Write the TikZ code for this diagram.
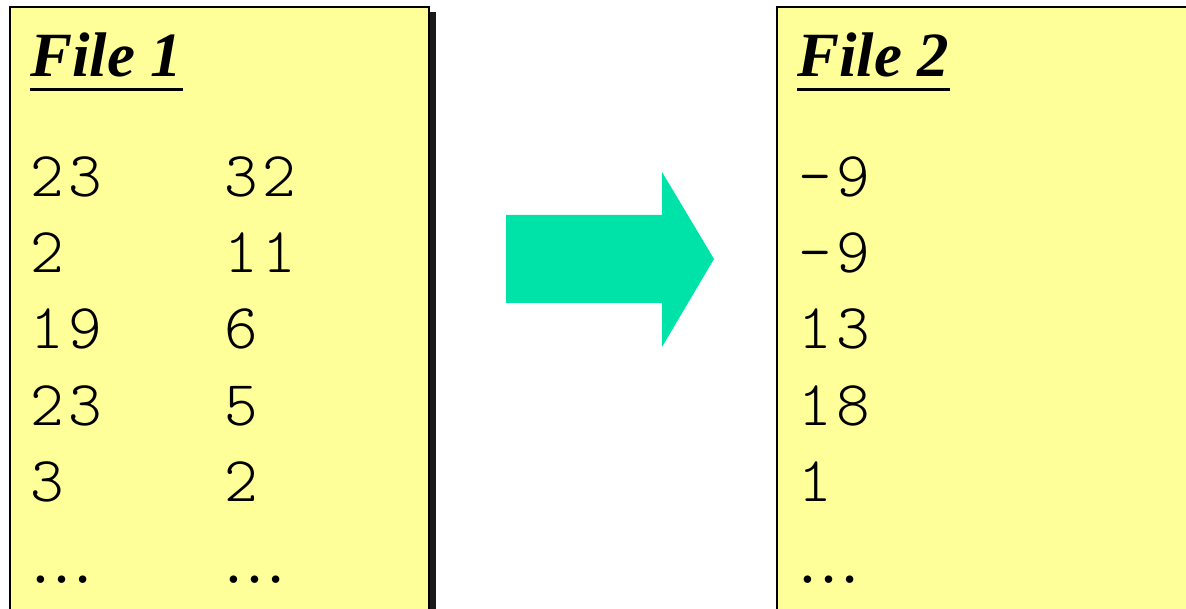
\documentclass[tikz,border=0pt]{standalone}
\usepackage{fontspec}
\setmainfont{Liberation Serif}
\newfontfamily\numfont{lmmonolt10-regular.otf}[LetterSpace=7.5]
\usepackage{tikz}
\definecolor{notepad}{HTML}{FFFF99}
\definecolor{arrowgreen}{HTML}{00E3A8}

\begin{document}
\begin{tikzpicture}[x=1pt,y=-1pt,
    num/.style={anchor=base west,inner sep=0pt,font=\numfont\fontsize{64}{64}\selectfont},
    dots/.style={anchor=base west,inner sep=0pt,font=\fontsize{63}{63}\selectfont},
    title/.style={anchor=base west,inner sep=0pt,font=\bfseries\itshape\fontsize{63}{63}\selectfont}]
  \useasboundingbox (0,0) rectangle (1186,609);

  % the two files
  \fill[black!90] (16,12) rectangle (436,615);
  \draw[fill=notepad, line width=2pt] (10,7) rectangle (429,609.5);
  \draw[fill=notepad, line width=2pt] (777,7) rectangle (1200,609.5);

  % titles
  \node[title] (t1) at (30,77) {File 1};
  \node[title] (t2) at (797,77) {File 2};
  \draw[line width=3.5pt] ([yshift=-12.5pt]t1.base west) -- ([yshift=-12.5pt]t1.base east);
  \draw[line width=3.5pt] ([yshift=-12.5pt]t2.base west) -- ([yshift=-12.5pt]t2.base east);

  % numbers
  \foreach \i/\a/\b/\c in {0/23/32/-9, 1/2/11/-9, 2/19/6/13, 3/23/5/18, 4/3/2/1} {
    \node[num] (a\i) at (30,{197+76*\i}) {\a};
    \node[num] (b\i) at (224,{197+76*\i}) {\b};
    \node[num] (c\i) at (798,{197+76*\i}) {\c};
  }
  \node[dots] (a5) at (30,582) {…};
  \node[dots] (b5) at (223,582) {…};
  \node[dots] (c5) at (797,582) {…};

  % big arrow
  \fill[arrowgreen] (506,215) -- (662,215) -- (662,172) -- (714,259)
    -- (662,347) -- (662,303) -- (506,303) -- cycle;
\end{tikzpicture}
\end{document}
